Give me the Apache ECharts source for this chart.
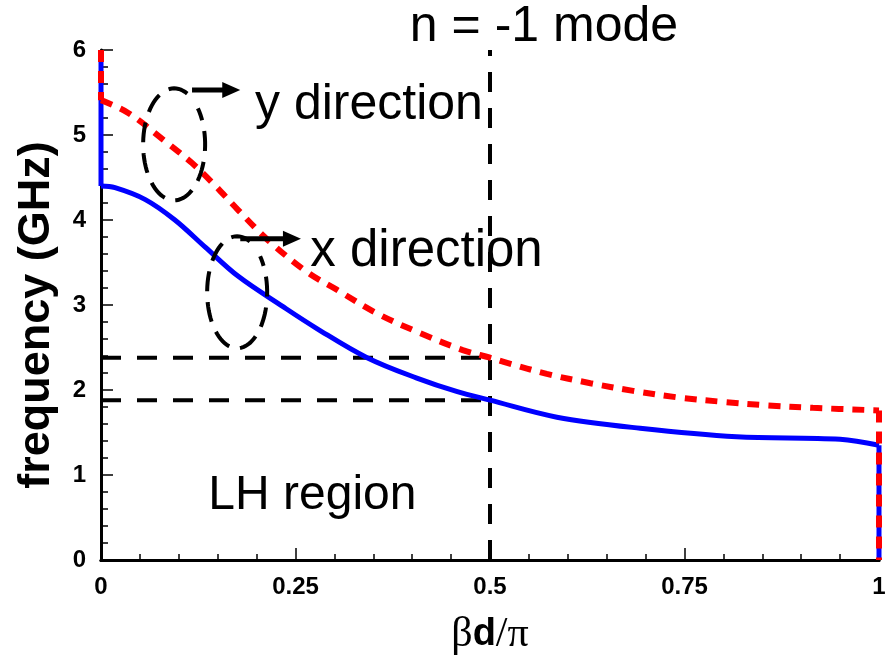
<!DOCTYPE html>
<html><head><meta charset="utf-8">
<script src="https://cdn.jsdelivr.net/npm/echarts@6/dist/echarts.min.js"></script>
<style>html,body{margin:0;padding:0;background:#fff}#c{width:889px;height:655px}</style>
</head><body><div id="c"></div>
<script>
// x direction mode (solid blue)
const blueX = [0, 0, 0.018, 0.057, 0.095, 0.134, 0.176, 0.234, 0.278, 0.342, 0.406, 0.458, 0.5, 0.586, 0.693, 0.817, 0.95, 1, 1];
const blueY = [6, 4.40, 4.38, 4.24, 4.00, 3.68, 3.34, 2.98, 2.72, 2.38, 2.14, 1.98, 1.88, 1.68, 1.55, 1.45, 1.42, 1.35, 0];
// y direction mode (dashed red)
const redX = [0, 0, 0.035, 0.086, 0.117, 0.143, 0.176, 0.215, 0.266, 0.303, 0.355, 0.41, 0.465, 0.5, 0.522, 0.573, 0.629, 0.684, 0.744, 0.80, 0.856, 0.915, 1, 1];
const redY = [6, 5.41, 5.26, 4.90, 4.67, 4.44, 4.12, 3.76, 3.38, 3.18, 2.90, 2.67, 2.47, 2.38, 2.32, 2.19, 2.08, 1.99, 1.91, 1.86, 1.82, 1.79, 1.76, 0];
// reference lines
const hRefY = [2.38, 1.88];
const vRefX = 0.5;

const zip = (a, b) => a.map((v, i) => [v, b[i]]);
const chart = echarts.init(document.getElementById('c'));
const dashBlack = {color: '#000', width: 4, type: [20, 16]};
const blueStyle = {color: '#0000ff', width: 5};
const redStyle = {color: '#ff0000', width: 6, type: [12, 9]};
const bluePts = zip(blueX, blueY), redPts = zip(redX, redY);
const line = (data, style, z, smooth) => ({type: 'line', data: data, showSymbol: false, clip: false, z: z, smooth: smooth || false, lineStyle: style});
const series = [
  line(bluePts.slice(0, 2), blueStyle, 3),
  line(bluePts.slice(1, -1), blueStyle, 3, 0.35),
  line(bluePts.slice(-2), blueStyle, 3),
  line(redPts.slice(0, 2), redStyle, 4),
  line(redPts.slice(1, -1), redStyle, 4, 0.35),
  line(redPts.slice(-2), redStyle, 4)
];
hRefY.forEach(y => series.push(line([[0, y], [vRefX, y]], dashBlack, 2)));
series.push(line([[vRefX, 0], [vRefX, 6]], dashBlack, 2));

const labelStyle = {fontFamily: 'Liberation Sans, Arial', fontWeight: 'bold', fontSize: 24, color: '#000'};
chart.setOption({
  animation: false,
  backgroundColor: '#fff',
  grid: {left: 101, right: 10, top: 50, bottom: 95, outerBoundsMode: 'none', containLabel: false},
  xAxis: [{
    type: 'value', min: 0, max: 1, interval: 0.25,
    axisLine: {lineStyle: {color: '#000', width: 3}},
    axisTick: {inside: true, length: 12, lineStyle: {color: '#000', width: 1.5}},
    minorTick: {show: true, splitNumber: 5, length: 6, lineStyle: {color: '#000', width: 1.5}},
    splitLine: {show: false},
    axisLabel: Object.assign({margin: 15, formatter: v => String(v)}, labelStyle),
    name: '{b|β}{d|d}{b|/π}', nameLocation: 'middle', nameGap: 54,
    nameTextStyle: {rich: {
      b: {fontFamily: 'Liberation Serif, Times New Roman', fontSize: 42, color: '#000'},
      d: {fontFamily: 'Liberation Sans, Arial', fontWeight: 'bold', fontSize: 38, color: '#000'}
    }}
  }, {
    type: 'value', position: 'top', min: 0, max: 1,
    axisLine: {show: true, lineStyle: {color: '#000', width: 3}},
    axisTick: {show: false}, axisLabel: {show: false}, splitLine: {show: false}
  }],
  yAxis: [{
    type: 'value', min: 0, max: 6, interval: 1,
    axisLine: {show: true, lineStyle: {color: '#000', width: 3}},
    axisTick: {inside: true, length: 12, lineStyle: {color: '#000', width: 1.5}},
    minorTick: {show: true, splitNumber: 5, length: 7, lineStyle: {color: '#000', width: 1.5}},
    splitLine: {show: false},
    axisLabel: Object.assign({margin: 15}, labelStyle),
    name: 'frequency (GHz)', nameLocation: 'middle', nameGap: 42, nameRotate: 90,
    nameTextStyle: {fontFamily: 'Liberation Sans, Arial', fontWeight: 'bold', fontSize: 45, color: '#000', padding: [0, 20, 0, 0]}
  }, {
    type: 'value', position: 'right', min: 0, max: 6,
    axisLine: {show: true, lineStyle: {color: '#000', width: 1.5}},
    axisTick: {show: false}, axisLabel: {show: false}, splitLine: {show: false}
  }],
  series: series
});

// annotations placed in data coordinates
const texts = [
  {t: 'n = -1 mode', x: 0.397, y: 6.27, s: 50},
  {t: 'y direction', x: 0.198, y: 5.35, s: 50},
  {t: 'x direction', x: 0.269, y: 3.63, s: 51},
  {t: 'LH region', x: 0.138, y: 0.75, s: 48}
];
const ellipses = [
  {cx: 0.094, cy: 4.89, rx: 31, ry: 56, ax0: 0.117, ax1: 0.179, ay: 5.53},
  {cx: 0.175, cy: 3.15, rx: 30, ry: 56, ax0: 0.179, ax1: 0.257, ay: 3.78}
];
const px = (x, y) => chart.convertToPixel({xAxisIndex: 0, yAxisIndex: 0}, [x, y]);
const graphic = [];
texts.forEach(o => {
  const p = px(o.x, o.y);
  graphic.push({type: 'text', x: p[0], y: p[1], z: 10, style: {text: o.t, fill: '#000',
    font: o.s + 'px "Liberation Sans", Arial', textAlign: 'left', textVerticalAlign: 'middle'}});
});
ellipses.forEach(e => {
  const c = px(e.cx, e.cy);
  const pts = [];
  const a0 = -65 * Math.PI / 180, a1 = -400 * Math.PI / 180;
  for (let i = 0; i <= 80; i++) {
    const a = a0 + (a1 - a0) * i / 80;
    pts.push([c[0] + e.rx * Math.cos(a), c[1] + e.ry * Math.sin(a)]);
  }
  graphic.push({type: 'polyline', z: 10, shape: {points: pts}, style: {stroke: '#000', lineWidth: 4, lineDash: [20, 11], fill: null}});
  const s = px(e.ax0, e.ay), t = px(e.ax1, e.ay);
  graphic.push({type: 'line', z: 10, shape: {x1: s[0], y1: s[1], x2: t[0] - 14, y2: t[1]}, style: {stroke: '#000', lineWidth: 5}});
  graphic.push({type: 'polygon', z: 10, shape: {points: [[t[0], t[1]], [t[0] - 18, t[1] - 8], [t[0] - 18, t[1] + 8]]}, style: {fill: '#000'}});
});
chart.setOption({graphic: graphic});
</script>
</body></html>
